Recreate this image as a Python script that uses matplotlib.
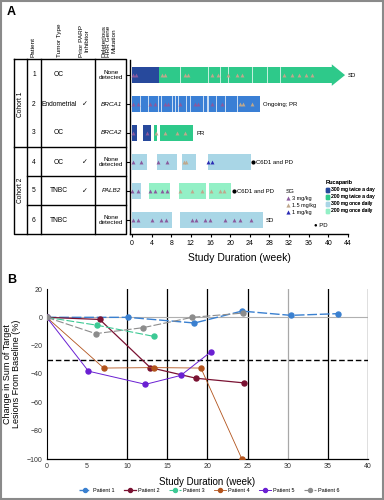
import numpy as np
import matplotlib.pyplot as plt
from matplotlib.patches import Polygon, Rectangle
from matplotlib.lines import Line2D

plt.rcParams['font.family'] = ['Liberation Sans', 'DejaVu Sans']

# ---- panel A table ----
patients = ['1', '2', '3', '4', '5', '6']
tumor = ['OC', 'Endometrial', 'OC', 'OC', 'TNBC', 'TNBC']
prior_parp = [False, True, False, True, True, False]
hrr = ['None\ndetected', 'BRCA1', 'BRCA2', 'None\ndetected', 'PALB2', 'None\ndetected']
cohorts = ['Cohort 1', 'Cohort 2']
headers = ['Patient', 'Tumor Type', 'Prior PARP\nInhibitor', 'Deleterious\nHRR Gene\nMutation']

# ---- panel A swimmer: (start, end, dose) ----
seg_p1 = [(0, 5.6, 'bid300'), (5.6, 43.4, 'bid200')]
seg_p2 = [(0, 26.0, 'bid300b')]
seg_p3 = [(0, 1.1, 'bid300'), (2.2, 3.9, 'bid300'), (4.5, 5.2, 'bid200'), (5.7, 12.5, 'bid200')]
seg_p4 = [(0, 3.0, 'qd300'), (5.2, 9.1, 'qd300'), (10.1, 13.0, 'qd300'), (15.5, 24.2, 'qd300')]
seg_p5 = [(0, 1.9, 'qd300'), (3.5, 7.7, 'qd200'), (9.6, 15.0, 'qd200'), (15.7, 20.2, 'qd200')]
seg_p6 = [(0, 8.1, 'qd300'), (9.8, 26.6, 'qd300')]
segments = [seg_p1, seg_p2, seg_p3, seg_p4, seg_p5, seg_p6]

# dose interruptions (white lines)
gap_p1 = [9.8, 15.5, 17.9, 19.6, 24.4, 27.5, 30.1]
gap_p2 = [1.6, 3.2, 5.4, 6.0, 8.1, 8.8, 9.4, 11.1, 11.8, 14.5, 15.2, 15.5, 17.2, 18.9, 21.3]
gaps = [gap_p1, gap_p2, [], [], [], []]

# SG doses (week, dose)
sg_p1 = [(0.3, '3'), (0.9, '3'), (6.1, '1.5'), (6.7, '1.5'), (10.8, '1.5'), (11.5, '1.5'),
         (16.3, '1.5'), (17.5, '1.5'), (19.5, '1.5'), (21.4, '1.5'), (22.4, '1.5'),
         (31.0, '1.5'), (32.5, '1.5'), (34.0, '1.5'), (35.4, '1.5'), (36.6, '1.5')]
sg_p2 = [(0.3, '3'), (1.2, '3'), (3.7, '3'), (4.7, '3'), (6.7, '3'), (7.3, '3'), (9.8, '3'),
         (12.8, '3'), (13.4, '3'), (16.2, '3'), (18.3, '3'), (22.0, '1.5'), (22.6, '1.5'), (24.4, '1.5')]
sg_p3 = [(0.3, '3'), (3.0, '3'), (4.8, '1.5'), (6.7, '1.5'), (9.1, '1.5'), (10.8, '1.5')]
sg_p4 = [(0.3, '3'), (1.8, '3'), (5.4, '3'), (7.1, '3'), (10.5, '1.5'), (11.1, '1.5'), (15.5, '1'), (16.3, '1')]
sg_p5 = [(0.1, '3'), (1.2, '3'), (3.7, '3'), (4.7, '3'), (6.2, '3'), (7.1, '3'), (9.8, '1.5'),
         (12.2, '1.5'), (14.3, '1.5'), (16.1, '1.5'), (18.0, '1.5'), (18.7, '1.5')]
sg_p6 = [(0.3, '3'), (1.3, '3'), (4.0, '3'), (5.9, '3'), (6.9, '3'), (12.2, '3'), (13.0, '3'),
         (14.9, '3'), (15.9, '3'), (18.9, '3'), (20.8, '3'), (22.0, '3'), (24.2, '3')]
sg = [sg_p1, sg_p2, sg_p3, sg_p4, sg_p5, sg_p6]

end_labels = ['SD', 'Ongoing; PR', 'PR', 'C6D1 and PD', 'C6D1 and PD', 'SD']
pd_week = [None, None, None, 24.2, 20.3, None]

dose_colors = {'bid300': '#27499c', 'bid300b': '#3a7fd5', 'bid200': '#2ec98a',
               'qd300': '#a9d6e6', 'qd200': '#93f0c6'}
dose_labels = {'bid300': '300 mg twice a day', 'bid200': '200 mg twice a day',
               'qd300': '300 mg once daily', 'qd200': '200 mg once daily'}
sg_colors = {'3': '#8a5a9e', '1.5': '#bfa88c', '1': '#2a2ab4'}
sg_labels = {'3': '3 mg/kg', '1.5': '1.5 mg/kg', '1': '1 mg/kg'}

# ---- panel B ----
wk1 = [0, 10.1, 18.4, 24.3, 30.4, 36.3]
ch1 = [0, 0, -4, 4.4, 1.4, 2.6]
wk2 = [0, 6.6, 12.9, 18.6, 24.6]
ch2 = [0, -1.5, -35.5, -43, -46.3]
wk3 = [0, 6.3, 13.3]
ch3 = [0, -5.6, -13.4]
wk4 = [0, 7.1, 13.3, 19.2, 24.3]
ch4 = [0, -35.8, -35.5, -35.8, -100]
wk5 = [0, 5.2, 12.3, 16.7, 20.4]
ch5 = [0, -38, -47.3, -41, -24.5]
wk6 = [0, 6.1, 12.0, 18.1, 24.4]
ch6 = [0, -11.5, -7.3, 0, 3]
b_weeks = [wk1, wk2, wk3, wk4, wk5, wk6]
b_change = [ch1, ch2, ch3, ch4, ch5, ch6]
b_colors = ['#3a80d0', '#7a1232', '#3cc994', '#b2531c', '#6a1fd2', '#8c8c8c']
b_styles = [(0, (7, 2)), '-', (0, (7, 2)), '-', '-', (0, (7, 2))]
b_widths = [1.0, 0.9, 0.8, 0.6, 0.7, 0.8]
black_lines = [10, 15, 20, 25, 35, 40]
grey_lines = [30]

fig = plt.figure(figsize=(3.84, 5.00), dpi=100)

# overlay in pixel coordinates for the table
ov = fig.add_axes([0, 0, 1, 1], zorder=-1)
ov.set_xlim(0, 384)
ov.set_ylim(500, 0)
ov.axis('off')

row_y = [75, 104, 133, 162, 191, 220]
lk = dict(color='black', lw=1.0)
ov.plot([14, 126, 126, 14, 14], [59, 59, 234, 234, 59], **lk)
for xv in [27, 41, 95]:
    ov.plot([xv, xv], [59, 234], **lk)
ov.plot([14, 126], [147, 147], **lk)
for yv in [176, 205]:
    ov.plot([27, 126], [yv, yv], **lk)

hx = [33, 59, 84, 109]
for h, x in zip(headers, hx):
    ov.text(x, 57, h, rotation=90, ha='center', va='bottom', fontsize=4.6, linespacing=1.0)

for i, y in enumerate(row_y):
    ov.text(34, y, patients[i], ha='center', va='center', fontsize=4.8)
    ov.text(59, y, tumor[i], ha='center', va='center', fontsize=4.8)
    if prior_parp[i]:
        ov.text(85, y, '\u2713', ha='center', va='center', fontsize=5, family='DejaVu Sans')
    ov.text(111, y, hrr[i], ha='center', va='center', fontsize=4.6,
            style='italic' if hrr[i].startswith(('BRCA', 'PALB')) else 'normal', linespacing=1.0)
ov.text(20.5, 104, cohorts[0], rotation=90, ha='center', va='center', fontsize=4.8)
ov.text(20.5, 190, cohorts[1], rotation=90, ha='center', va='center', fontsize=4.8)

fig.text(7 / 384, 1 - 12 / 500, 'A', fontsize=9, fontweight='bold', va='center')
fig.text(7 / 384, 1 - 280 / 500, 'B', fontsize=9, fontweight='bold', va='center')

# ---- swimmer ----
ax = fig.add_axes([130 / 384, 1 - 234 / 500, 218 / 384, 174 / 500])
ax.set_xlim(-0.4, 44)
ax.set_ylim(6.48, 0.48)
bh = 0.54
head = 2.7
for i, segs in enumerate(segments):
    y = i + 1
    for (s, e, d) in segs:
        if i == 0 and e == segs[-1][1]:
            ax.barh(y, e - head - s, left=s, height=bh, color=dose_colors[d], lw=0)
            ax.add_patch(Polygon([[e - head, y - 0.37], [e, y], [e - head, y + 0.37]],
                                 closed=True, color=dose_colors[d], lw=0))
        else:
            ax.barh(y, e - s, left=s, height=bh, color=dose_colors[d], lw=0)
    for g in gaps[i]:
        ax.plot([g, g], [y - bh / 2, y + bh / 2], color='white', lw=0.6, alpha=0.85)
    for (w, d) in sg[i]:
        ax.plot(w, y, marker='^', ms=2.8, color=sg_colors[d], mec='none', ls='none')
    end = max(e for (s, e, d) in segments[i])
    tx = end + 0.6
    if pd_week[i] is not None:
        ax.plot(pd_week[i] + 0.4, y, 'o', ms=2, color='black')
        tx = pd_week[i] + 1.1
    ax.text(tx, y, end_labels[i], fontsize=4.3, va='center', ha='left')

ax.set_xticks(np.arange(0, 45, 4))
ax.set_yticks(range(1, 7))
ax.set_yticklabels([])
ax.tick_params(axis='y', length=3, width=0.8, direction='out')
ax.tick_params(axis='x', labelsize=5, length=2.5, width=0.8, pad=2)
for s in ['top', 'right']:
    ax.spines[s].set_visible(False)
ax.spines['left'].set_linewidth(1.0)
ax.spines['bottom'].set_linewidth(1.0)
ax.set_xlabel('Study Duration (week)', fontsize=7.5, labelpad=4)

# legends panel A
h_sg = [Line2D([], [], marker='^', ls='none', ms=3, color=sg_colors[k], mec='none', label=sg_labels[k])
        for k in ['3', '1.5', '1']]
leg1 = ax.legend(handles=h_sg, title='SG', loc='upper left', bbox_to_anchor=(0.70, 0.275),
                 frameon=False, fontsize=4.0, title_fontsize=4.4, handlelength=0.8,
                 handletextpad=0.3, labelspacing=0.35, borderpad=0.1)
leg1._legend_box.align = 'left'
ax.add_artist(leg1)
h_rc = [Rectangle((0, 0), 1, 1, color=dose_colors[k], label=dose_labels[k])
        for k in ['bid300', 'bid200', 'qd300', 'qd200']]
leg2 = ax.legend(handles=h_rc, title='Rucaparib', loc='upper left', bbox_to_anchor=(0.885, 0.325),
                 frameon=False, fontsize=3.6, title_fontsize=4.2, handlelength=0.7, handleheight=0.9,
                 handletextpad=0.25, labelspacing=0.4, borderpad=0.1)
leg2._legend_box.align = 'left'
ax.add_artist(leg2)
ax.text(0.845, 0.05, '\u25cf PD', transform=ax.transAxes, fontsize=4.3, ha='left', va='center')

# ---- panel B ----
bx = fig.add_axes([46.7 / 384, 1 - 459 / 500, 321.3 / 384, 170 / 500])
bx.set_xlim(0, 40)
bx.set_ylim(-100, 20)
for xv in black_lines:
    bx.axvline(xv, color='black', lw=0.9, zorder=1)
for xv in grey_lines:
    bx.axvline(xv, color='#a8a8a8', lw=0.9, zorder=1)
bx.axhline(0, color='#b0b0b0', lw=0.8, zorder=1)
bx.axhline(-30, color='black', lw=1.0, ls=(0, (4, 2)), zorder=1)
for i in range(6):
    bx.plot(b_weeks[i], b_change[i], color=b_colors[i], ls=b_styles[i], lw=b_widths[i],
            marker='o', ms=3.6, mec=b_colors[i], zorder=3, label='Patient %d' % (i + 1))
bx.set_xticks(np.arange(0, 41, 5))
bx.set_yticks(np.arange(-100, 21, 20))
bx.tick_params(labelsize=5, length=0, pad=3, colors='#333333')
for s in ['top', 'right']:
    bx.spines[s].set_visible(False)
bx.spines['left'].set_linewidth(0.8)
bx.spines['bottom'].set_linewidth(0.9)
bx.set_xlabel('Study Duration (week)', fontsize=7, labelpad=5)
bx.set_ylabel('Change in Sum of Target\nLesions From Baseline (%)', fontsize=6.5, labelpad=4, linespacing=1.1)
fig.legend(*bx.get_legend_handles_labels(), loc='center', bbox_to_anchor=(0.545, 1 - 490 / 500),
           ncol=6, frameon=False, fontsize=4, handlelength=2.2, columnspacing=1.6,
           handletextpad=0.4, markerscale=0.8)

fig.add_artist(Rectangle((0.002, 0.002), 0.996, 0.996, transform=fig.transFigure,
                         fill=False, edgecolor='#8a8a8a', lw=1.5))

fig.savefig('out.png', dpi=100)
